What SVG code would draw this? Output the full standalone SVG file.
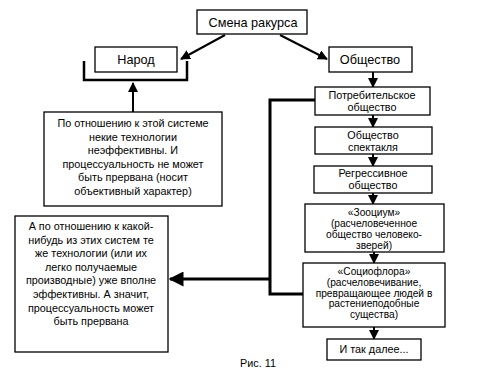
<svg xmlns="http://www.w3.org/2000/svg" width="500" height="375" viewBox="0 0 500 375">
<defs>
<marker id="ah" viewBox="0 0 10 10" refX="9" refY="5" markerWidth="10" markerHeight="10" markerUnits="userSpaceOnUse" orient="auto"><path d="M0,0 L10,5 L0,10 z" fill="#000"/></marker>
<marker id="ahb" viewBox="0 0 10 10" refX="9" refY="5" markerWidth="5" markerHeight="5" markerUnits="strokeWidth" orient="auto"><path d="M0,0 L10,5 L0,10 z" fill="#000"/></marker>
<style>
rect{fill:#fff;stroke:#000;stroke-width:1.3}
text{font-family:"Liberation Sans",Arial,sans-serif;fill:#000;text-anchor:middle}
.t{font-size:12.7px}
.s{font-size:10.8px}
.s2{font-size:10.2px}
.c{stroke:#000;stroke-width:2;fill:none}
.k{stroke:#000;stroke-width:3;fill:none}
</style>
</defs>
<rect width="500" height="375" fill="#fff" style="stroke:none"/>
<g id="connectors">
<line class="c" x1="225" y1="35" x2="181" y2="59" marker-end="url(#ah)"/>
<line class="c" x1="280" y1="35" x2="327" y2="59" marker-end="url(#ah)"/>
<path class="k" d="M84,61 V80 H187 V61" style="stroke-width:2.5"/>
<line class="c" x1="133" y1="112" x2="133" y2="83" marker-end="url(#ah)"/>
<line class="c" x1="373" y1="72" x2="373" y2="87" marker-end="url(#ah)"/>
<line class="c" x1="373" y1="115" x2="373" y2="127" marker-end="url(#ah)"/>
<line class="c" x1="373" y1="154" x2="373" y2="166" marker-end="url(#ah)"/>
<line class="c" x1="373" y1="193" x2="373" y2="204" marker-end="url(#ah)"/>
<line class="c" x1="374" y1="252" x2="374" y2="263" marker-end="url(#ah)"/>
<line class="c" x1="374" y1="327" x2="374" y2="339" marker-end="url(#ah)"/>
<path class="k" d="M315,100 H270 V294 H303"/>
<line class="k" x1="270" y1="279" x2="170" y2="279" marker-end="url(#ahb)"/>
</g>
<g id="smena"><rect x="197" y="10" width="110" height="24"/><text class="t" x="253" y="27">Смена ракурса</text></g>
<g id="narod"><rect x="95" y="47" width="82" height="25"/><text class="t" x="136" y="64">Народ</text></g>
<g id="obshchestvo"><rect x="329" y="47" width="83" height="25"/><text class="t" x="370" y="64">Общество</text></g>
<g id="potreb"><rect x="315" y="87" width="115" height="28"/><text class="s" x="372" y="99">Потребительское</text><text class="s" x="372" y="110.5">общество</text></g>
<g id="spektakl"><rect x="315" y="127" width="117" height="27"/><text class="s" x="373" y="139">Общество</text><text class="s" x="373" y="150.5">спектакля</text></g>
<g id="regress"><rect x="314" y="166" width="118" height="27"/><text class="s" x="373" y="177">Регрессивное</text><text class="s" x="373" y="188.5">общество</text></g>
<g id="zoocium"><rect x="305" y="204" width="139" height="48"/><text class="s2" x="374" y="216">«Зооциум»</text><text class="s2" x="374" y="227">(расчеловеченное</text><text class="s2" x="374" y="238">общество человеко-</text><text class="s2" x="374" y="249">зверей)</text></g>
<g id="sociofl"><rect x="303" y="263" width="142" height="64"/><text class="s2" x="374" y="275">«Социофлора»</text><text class="s2" x="374" y="285.8">(расчеловечивание,</text><text class="s2" x="374" y="296.6">превращающее людей в</text><text class="s2" x="374" y="307.4">растениеподобные</text><text class="s2" x="374" y="318.2">существа)</text></g>
<g id="dalee"><rect x="327" y="339" width="94" height="21"/><text class="s" x="374" y="353">И так далее...</text></g>
<g id="box1"><rect x="44" y="112" width="178" height="94"/>
<text class="s" x="133" y="127">По отношению к этой системе</text>
<text class="s" x="133" y="140.5">некие технологии</text>
<text class="s" x="133" y="154">неэффективны. И</text>
<text class="s" x="133" y="167.5">процессуальность не может</text>
<text class="s" x="133" y="181">быть прервана (носит</text>
<text class="s" x="133" y="194.5">объективный характер)</text></g>
<g id="box2"><rect x="15" y="216" width="153" height="136"/>
<text class="s" x="91" y="230">А по отношению к какой-</text>
<text class="s" x="91" y="243.6">нибудь из этих систем те</text>
<text class="s" x="91" y="257.2">же технологии (или их</text>
<text class="s" x="91" y="270.8">легко получаемые</text>
<text class="s" x="91" y="284.4">производные) уже вполне</text>
<text class="s" x="91" y="298">эффективны. А значит,</text>
<text class="s" x="91" y="311.6">процессуальность может</text>
<text class="s" x="91" y="325.2">быть прервана</text></g>
<text class="s" x="258" y="367">Рис. 11</text>
</svg>
